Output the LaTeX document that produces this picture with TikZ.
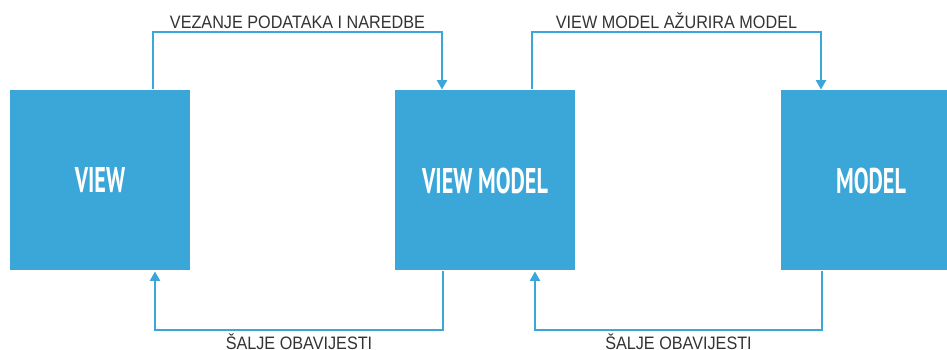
\documentclass[tikz,border=0pt]{standalone}
\usepackage{fontspec}
\newfontfamily\linkfont{Liberation Sans}[FakeStretch=0.9]
\newfontfamily\boxfont{PT Sans}[FakeStretch=0.62]
\usetikzlibrary{arrows.meta}
\definecolor{mvvmblue}{RGB}{59,166,216}
\definecolor{labelgray}{RGB}{51,51,51}

\begin{document}
\begin{tikzpicture}[x=0.75pt,y=0.75pt,line width=1.5pt,draw=mvvmblue]
    \tikzstyle{block}=[rectangle,fill=mvvmblue,minimum width=135pt,minimum height=135pt,inner sep=0pt,text=white,font=\boxfont\bfseries\fontsize{26.8}{30}\selectfont]
    \tikzstyle{link}=[-{Triangle[width=7.5pt,length=7pt]},mvvmblue]
    \tikzstyle{note}=[text=labelgray,inner sep=2pt,font=\linkfont\fontsize{13.5}{16}\selectfont]

    \useasboundingbox (0,0) rectangle (947,350);
    \clip (0,0) rectangle (947,350);

    % Draw the three blocks
    \foreach \name / \x / \txt in {view/100/VIEW, vm/485/VIEW MODEL, model/871/MODEL}
        \node[block] (\name) at (\x, 169.5) {\txt};

    % Bindings from the view to the view model
    \draw[link] ([xshift=39.75pt]view.north) -- ++(0,57)
        -| node[note, pos=0.25, above] {VEZANJE PODATAKA I NAREDBE} ([xshift=-32.25pt]vm.north);

    % The view model updates the model
    \draw[link] ([xshift=35.25pt]vm.north) -- ++(0,57)
        -| node[note, pos=0.25, above] {VIEW MODEL AŽURIRA MODEL} ([xshift=-37.5pt]model.north);

    % Notifications back to the left
    \draw[link] ([xshift=-31.5pt]vm.south) -- ++(0,-59)
        -| node[note, pos=0.25, below] {ŠALJE OBAVIJESTI} ([xshift=41.25pt]view.south);
    \draw[link] ([xshift=-36.75pt]model.south) -- ++(0,-59)
        -| node[note, pos=0.25, below] {ŠALJE OBAVIJESTI} ([xshift=37.5pt]vm.south);

\end{tikzpicture}
\end{document}
